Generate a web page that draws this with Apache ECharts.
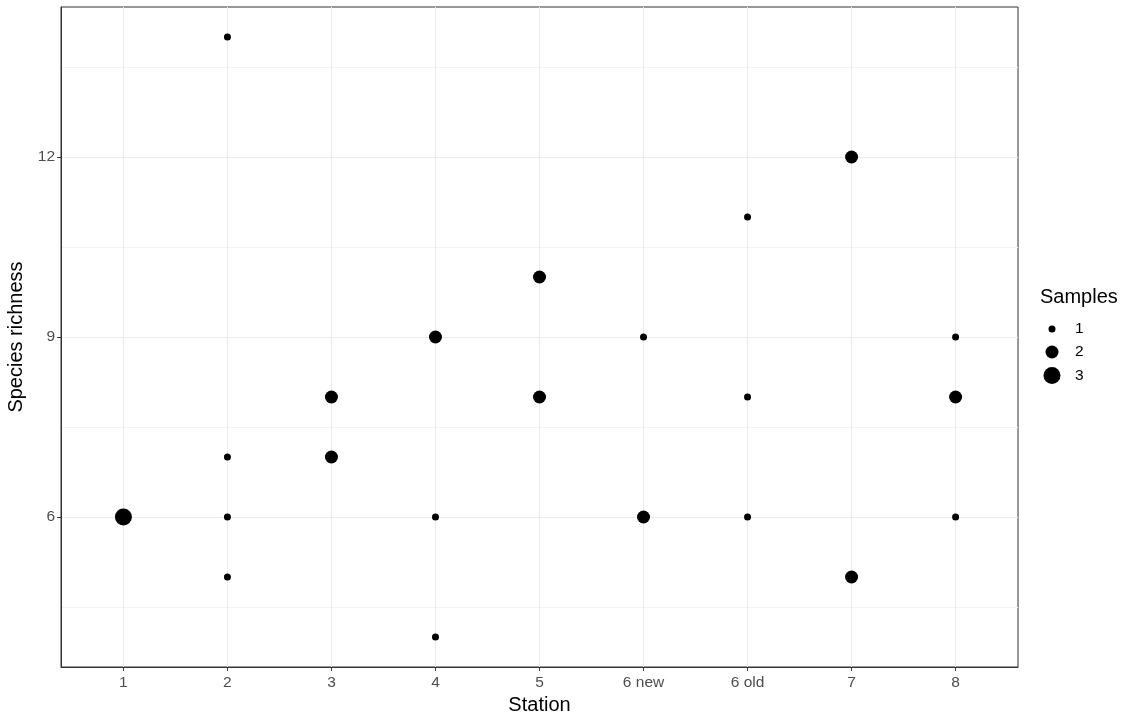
<!DOCTYPE html>
<html>
<head>
<meta charset="utf-8">
<script src="https://cdn.jsdelivr.net/npm/echarts@6/dist/echarts.min.js"></script>
<style>
html,body{margin:0;padding:0;background:#fff;}
#chart{width:1135px;height:721px;}
</style>
</head>
<body>
<div id="chart"></div>
<script>
// ---- data ----
const stations = ["1", "2", "3", "4", "5", "6 new", "6 old", "7", "8"];
const pointStation  = ["1", "2", "2", "2", "2", "3", "3", "4", "4", "4", "5", "5", "6 new", "6 new", "6 old", "6 old", "6 old", "7", "7", "8", "8", "8"];
const pointRichness = [6,   14,  7,   6,   5,   8,   7,   9,   6,   4,   10,  8,   9,       6,       11,      8,       6,       12,  5,   9,   8,   6];
const pointSamples  = [3,   1,   1,   1,   1,   2,   2,   2,   1,   1,   2,   2,   1,       2,       1,       1,       1,       2,   2,   1,   2,   1];
const sampleLevels = [1, 2, 3];
const yMajorTicks = [6, 9, 12];
const yMinorBreaks = [4.5, 7.5, 10.5, 13.5];

const sizeFor = {1: 7, 2: 13, 3: 17};
const xPositions = stations.map((s, i) => i + 1);
const FONT = 'Liberation Sans';

const series = sampleLevels.map(lv => ({
  name: String(lv),
  type: 'scatter',
  symbol: 'circle',
  symbolSize: sizeFor[lv],
  itemStyle: {color: '#000', opacity: 1},
  emphasis: {disabled: true},
  data: pointStation.map((s, i) => pointSamples[i] === lv ? [stations.indexOf(s) + 1, pointRichness[i]] : null).filter(d => d)
}));

const legends = sampleLevels.map((lv, i) => ({
  data: [{name: String(lv), itemStyle: {opacity: 1, color: '#000'}}],
  left: 1052 - sizeFor[lv] / 2,
  top: 330 + i * 23 - 9,
  orient: 'vertical',
  icon: 'circle',
  itemWidth: sizeFor[lv],
  itemHeight: sizeFor[lv],
  itemGap: 0,
  padding: 0,
  selectedMode: false,
  textStyle: {fontFamily: FONT, fontSize: 15.5, color: '#000', padding: [0, 0, 0, 18 - sizeFor[lv] / 2]}
}));

const chart = echarts.init(document.getElementById('chart'), null, {renderer: 'canvas'});
chart.setOption({
  animation: false,
  backgroundColor: '#fff',
  title: {
    text: 'Samples', left: 1040, top: 287, padding: 0,
    textStyle: {fontFamily: FONT, fontSize: 20, fontWeight: 'normal', color: '#000'}
  },
  legend: legends,
  grid: {left: 61, right: 117, top: 7, bottom: 54, outerBoundsMode: 'none', containLabel: false,
         show: true, borderColor: '#333', borderWidth: 1, backgroundColor: 'transparent'},
  xAxis: {
    type: 'value', min: 0.4, max: 9.6,
    name: 'Station', nameLocation: 'middle', nameGap: 24,
    nameTextStyle: {fontFamily: FONT, fontSize: 20, color: '#000'},
    axisLine: {show: true, lineStyle: {color: '#333'}},
    axisTick: {show: true, customValues: xPositions, length: 4, lineStyle: {color: '#333'}},
    axisLabel: {customValues: xPositions, formatter: v => stations[Math.round(v) - 1], fontFamily: FONT, fontSize: 15.5, color: '#4D4D4D', margin: 8},
    splitLine: {show: true, lineStyle: {color: '#EBEBEB', width: 1}}
  },
  yAxis: [{
    type: 'value', min: 3.5, max: 14.5,
    name: 'Species richness', nameLocation: 'middle', nameGap: 29,
    nameTextStyle: {fontFamily: FONT, fontSize: 20, color: '#000'},
    axisLine: {show: true, lineStyle: {color: '#333'}},
    axisTick: {show: true, customValues: yMajorTicks, length: 4, lineStyle: {color: '#333'}},
    axisLabel: {customValues: yMajorTicks, fontFamily: FONT, fontSize: 15.5, color: '#4D4D4D', margin: 6},
    splitLine: {show: true, lineStyle: {color: '#EBEBEB', width: 1}}
  }, {
    type: 'value', min: 3.5, max: 14.5, position: 'left',
    axisLine: {show: false},
    axisTick: {show: false, customValues: yMinorBreaks},
    axisLabel: {show: false, customValues: yMinorBreaks},
    splitLine: {show: true, lineStyle: {color: '#F2F2F2', width: 1}}
  }],
  series: series
});
</script>
</body>
</html>
